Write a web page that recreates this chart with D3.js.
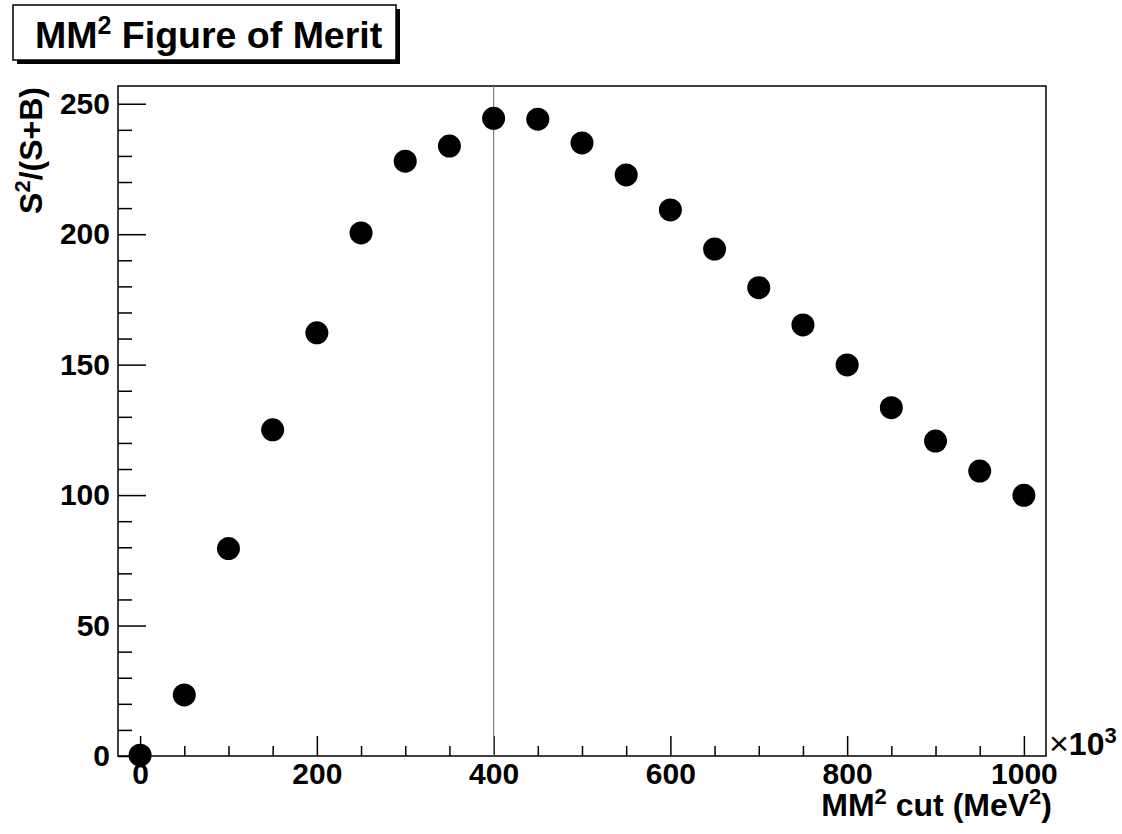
<!DOCTYPE html>
<html>
<head>
<meta charset="utf-8">
<script src="https://cdn.jsdelivr.net/npm/d3@7"></script>
<style>
  html, body { margin: 0; padding: 0; background: #fff; }
  svg { display: block; }
  text { font-family: "Liberation Sans", Arial, Helvetica, sans-serif; font-weight: bold; fill: #000; }
</style>
</head>
<body>
<svg id="chart" width="1122" height="834"></svg>
<script>
// ---- data ----
const cutValues = [0, 50, 100, 150, 200, 250, 300, 350, 400, 450, 500, 550, 600, 650, 700, 750, 800, 850, 900, 950, 1000];
const fomValues = [0.3, 23.4, 79.5, 125.0, 162.2, 200.5, 228.0, 233.8, 244.4, 244.1, 235.0, 222.7, 209.3, 194.3, 179.5, 165.2, 149.9, 133.5, 120.7, 109.2, 99.9];
const xMajorTicks = [0, 200, 400, 600, 800, 1000];
const xMinorTicks = [50, 100, 150, 250, 300, 350, 450, 500, 550, 650, 700, 750, 850, 900, 950];
const yMajorTicks = [0, 50, 100, 150, 200, 250];
const yMinorTicks = [10, 20, 30, 40, 60, 70, 80, 90, 110, 120, 130, 140, 160, 170, 180, 190, 210, 220, 230, 240];
const bestCut = [400];

const svg = d3.select("#chart");
const L = 118, R = 1046, T = 86, B = 756;

const x = d3.scaleLinear().domain([-25, 1025]).range([L, R]);
const y = d3.scaleLinear().domain([0, 256.8]).range([B, T]);

// frame
svg.append("rect").attr("x", L).attr("y", T).attr("width", R - L).attr("height", B - T)
  .attr("fill", "none").attr("stroke", "#000").attr("stroke-width", 1.5);

// x axis
const xAxisMajor = d3.axisBottom(x).tickValues(xMajorTicks).tickSize(-20).tickPadding(7).tickFormat(d3.format("d"));
const gx = svg.append("g").attr("transform", `translate(0,${B})`).call(xAxisMajor);
const xAxisMinor = d3.axisBottom(x).tickValues(xMinorTicks).tickSize(-10).tickFormat("");
const gx2 = svg.append("g").attr("transform", `translate(0,${B})`).call(xAxisMinor);

// y axis
const yAxisMajor = d3.axisLeft(y).tickValues(yMajorTicks).tickSize(-28).tickPadding(8).tickFormat(d3.format("d"));
const gy = svg.append("g").attr("transform", `translate(${L},0)`).call(yAxisMajor);
const yAxisMinor = d3.axisLeft(y).tickValues(yMinorTicks).tickSize(-14).tickFormat("");
const gy2 = svg.append("g").attr("transform", `translate(${L},0)`).call(yAxisMinor);

[gx, gx2, gy, gy2].forEach(g => {
  g.select(".domain").remove();
  g.selectAll(".tick line").attr("stroke", "#000").attr("stroke-width", 1.5);
  g.selectAll(".tick text").attr("font-size", 30).attr("font-family", '"Liberation Sans", Arial, sans-serif').attr("font-weight", "bold").attr("fill", "#000");
});

// vertical line at best cut
svg.selectAll(".vline").data(bestCut).enter().append("line")
  .attr("x1", d => x(d)).attr("x2", d => x(d)).attr("y1", T).attr("y2", B)
  .attr("stroke", "#808080").attr("stroke-width", 1.2);

// points
svg.selectAll(".pt").data(cutValues.map((c, i) => [c, fomValues[i]])).enter().append("circle")
  .attr("cx", d => x(d[0])).attr("cy", d => y(d[1])).attr("r", 11.5).attr("fill", "#000");

// x axis title
const xt = svg.append("text").attr("x", 1052).attr("y", 816).attr("text-anchor", "end").attr("font-size", 32);
xt.append("tspan").text("MM");
xt.append("tspan").attr("font-size", 22).attr("dy", -12).text("2");
xt.append("tspan").attr("dy", 12).text(" cut (MeV");
xt.append("tspan").attr("font-size", 22).attr("dy", -12).text("2");
xt.append("tspan").attr("dy", 12).text(")");

// exponent label
const ex = svg.append("text").attr("x", 1049).attr("y", 755).attr("font-size", 32);
ex.append("tspan").attr("font-weight", "normal").attr("font-size", 34).text("\u00d7");
ex.append("tspan").text("10");
ex.append("tspan").attr("font-size", 22).attr("dy", -12).text("3");

// y axis title
const yt = svg.append("text").attr("transform", "translate(42,87) rotate(-90)").attr("text-anchor", "end").attr("font-size", 32);
yt.append("tspan").text("S");
yt.append("tspan").attr("font-size", 22).attr("dy", -12).text("2");
yt.append("tspan").attr("dy", 12).text("/(S+B)");

// title box with shadow
svg.append("rect").attr("x", 17).attr("y", 9).attr("width", 383).attr("height", 55).attr("fill", "#000");
svg.append("rect").attr("x", 13).attr("y", 5).attr("width", 383).attr("height", 55).attr("fill", "#fff").attr("stroke", "#000").attr("stroke-width", 1.5);
const tt = svg.append("text").attr("x", 35).attr("y", 48).attr("font-size", 37.5);
tt.append("tspan").text("MM");
tt.append("tspan").attr("font-size", 25).attr("dy", -14).text("2");
tt.append("tspan").attr("dy", 14).text(" Figure of Merit");
</script>
</body>
</html>
